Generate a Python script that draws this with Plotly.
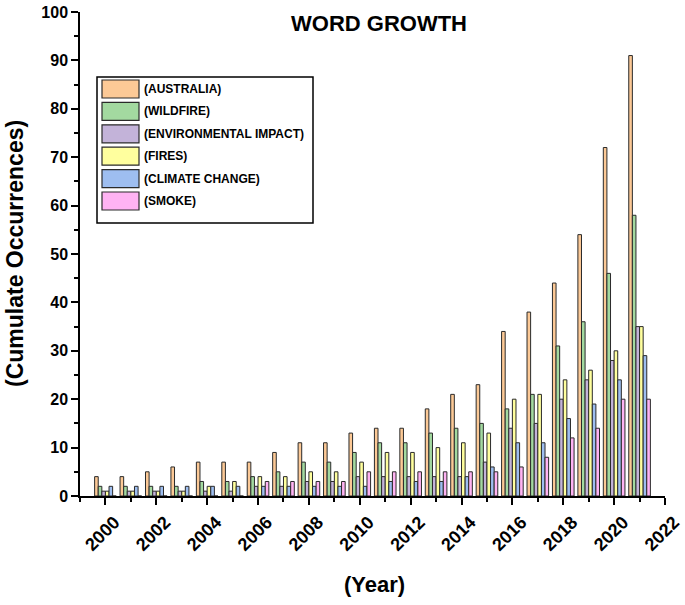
import plotly.graph_objects as go

years = list(range(2000, 2022))

names = ["(AUSTRALIA)", "(WILDFIRE)", "(ENVIRONMENTAL IMPACT)",
         "(FIRES)", "(CLIMATE CHANGE)", "(SMOKE)"]
colors = ["#FCC996", "#A3D9A0", "#C3B3D9", "#FFFF9E", "#9EBEF0", "#FFB3F3"]

australia = [4, 4, 5, 6, 7, 7, 7, 9, 11, 11, 13, 14, 14, 18, 21, 23, 34, 38, 44, 54, 72, 91]
wildfire = [2, 2, 2, 2, 3, 3, 4, 5, 7, 7, 9, 11, 11, 13, 14, 15, 18, 21, 31, 36, 46, 58]
environmental = [1, 1, 1, 1, 1, 1, 2, 2, 3, 3, 4, 4, 4, 4, 4, 7, 14, 15, 20, 24, 28, 35]
fires = [1, 1, 1, 1, 2, 3, 4, 4, 5, 5, 7, 9, 9, 10, 11, 13, 20, 21, 24, 26, 30, 35]
climate = [2, 2, 2, 2, 2, 2, 2, 2, 2, 2, 2, 3, 3, 3, 4, 6, 11, 11, 16, 19, 24, 29]
smoke = [0, 0, 0, 0, 0, 0, 3, 3, 3, 3, 5, 5, 5, 5, 5, 5, 6, 8, 12, 14, 20, 20]

series = [australia, wildfire, environmental, fires, climate, smoke]

FONT = "Liberation Sans, Arial, sans-serif"

# plot area in pixels (for the hand-drawn legend box)
L, R, T, B = 80, 665, 12, 496
def px(x):
  return (x - L) / (R - L)
def py(y):
  return (B - y) / (B - T)

fig = go.Figure()

for name, color, vals in zip(names, colors, series):
  fig.add_trace(go.Bar(
    x=years,
    y=vals,
    name=name,
    marker=dict(color=color, line=dict(color="#2a2a2a", width=1)),
    showlegend=False
  ))

# legend drawn like the original (long swatches inside a box)
shapes = [dict(type="rect", xref="paper", yref="paper",
               x0=px(97), x1=px(313), y0=py(223), y1=py(77),
               line=dict(color="black", width=1.5), fillcolor="white", layer="above")]
annotations = []
for i, (name, color) in enumerate(zip(names, colors)):
  top = 80 + 22.4 * i
  shapes.append(dict(type="rect", xref="paper", yref="paper",
                     x0=px(102), x1=px(139), y0=py(top + 18), y1=py(top),
                     line=dict(color="#2a2a2a", width=1.2), fillcolor=color, layer="above"))
  annotations.append(dict(xref="paper", yref="paper", x=px(142), y=py(top + 9),
                          text=name, showarrow=False, xanchor="left", yanchor="middle",
                          font=dict(family=FONT, size=12, color="black", weight="bold")))

annotations.append(dict(xref="paper", yref="paper", x=px(374), y=py(584),
                        text="(Year)", showarrow=False, xanchor="center", yanchor="middle",
                        font=dict(family=FONT, size=22, color="black", weight="bold")))
annotations.append(dict(xref="paper", yref="paper", x=px(15), y=py(254),
                        text="(Cumulate Occurrences)", showarrow=False, textangle=-90,
                        xanchor="center", yanchor="middle",
                        font=dict(family=FONT, size=23, color="black", weight="bold")))

fig.update_layout(
  width=685,
  height=605,
  margin=dict(l=L, r=685 - R, t=T, b=605 - B),
  paper_bgcolor="white",
  plot_bgcolor="white",
  barmode="group",
  bargap=0.15,
  bargroupgap=0,
  title=dict(text="WORD GROWTH", x=379 / 685, y=1 - 23 / 605, xanchor="center", yanchor="middle",
             font=dict(family=FONT, size=22, color="black", weight="bold")),
  shapes=shapes,
  annotations=annotations,
  xaxis=dict(
    range=[1999, 2022],
    tickmode="linear", tick0=2000, dtick=2,
    tickangle=-45,
    ticklabelshift=9, ticklabelstandoff=0,
    ticks="outside", ticklen=7, tickwidth=1.5, tickcolor="black",
    minor=dict(ticks="outside", dtick=1, tick0=2000, ticklen=4, tickwidth=1.5, tickcolor="black"),
    showline=True, linecolor="black", linewidth=1.5,
    showgrid=False, zeroline=False, automargin=False,
    tickfont=dict(family=FONT, size=18, color="black", weight="bold")
  ),
  yaxis=dict(
    range=[0, 100],
    tickmode="linear", tick0=0, dtick=10,
    ticks="outside", ticklen=7, tickwidth=1.5, tickcolor="black",
    minor=dict(ticks="outside", dtick=5, ticklen=4, tickwidth=1.5, tickcolor="black"),
    showline=True, linecolor="black", linewidth=1.5,
    showgrid=False, zeroline=False, automargin=False,
    tickfont=dict(family=FONT, size=16, color="black", weight="bold")
  )
)

fig.write_html("out.html", config={"displayModeBar": False},
               post_script="document.body.style.margin='0';")
